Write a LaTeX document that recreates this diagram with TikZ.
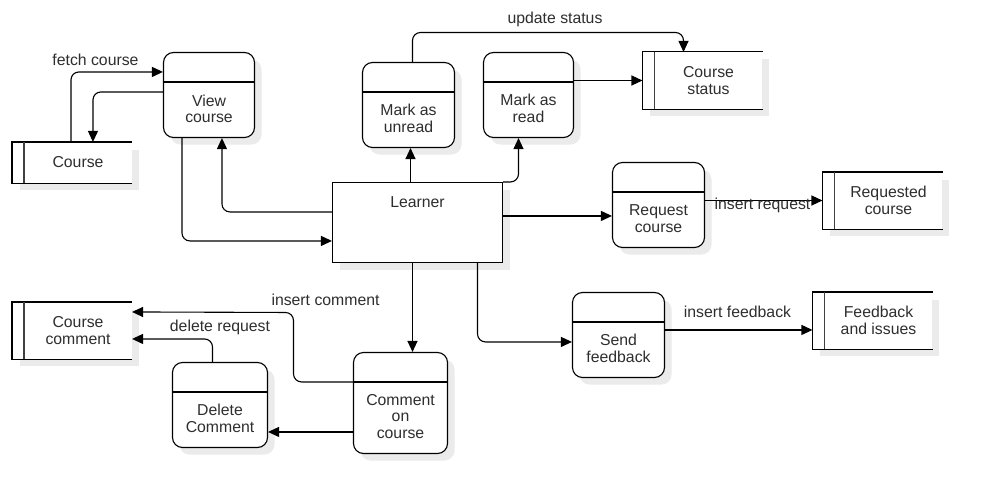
\documentclass[tikz,border=0pt]{standalone}
\usepackage{fontspec}
\setmainfont{Liberation Sans}
\usetikzlibrary{arrows.meta,shadows}
\begin{document}
\begin{tikzpicture}[x=1pt,y=-1pt,
  line width=1.1pt,
  txt/.style={font=\fontsize{15.8}{16.5}\selectfont, text=black!82, align=center, inner sep=0pt},
  lbl/.style={font=\fontsize{15.8}{16.5}\selectfont, text=black!82, inner sep=0pt},
  proc/.style={draw, fill=white, rounded corners=10pt, inner sep=0pt,
    drop shadow={shadow xshift=7pt, shadow yshift=-7pt, fill=black!8, opacity=1}},
  store/.style={fill=white, inner sep=0pt, minimum width=119pt, minimum height=56pt,
    drop shadow={shadow xshift=7pt, shadow yshift=-7pt, fill=black!8, opacity=1}},
  ent/.style={draw, fill=white, inner sep=0pt,
    drop shadow={shadow xshift=7pt, shadow yshift=-7pt, fill=black!8, opacity=1}},
  arr/.style={-{Triangle[length=11pt,width=10pt]}, rounded corners=8pt},
  sline/.style={line width=1.1pt}
]
\fill[white] (0,0) rectangle (990,503);
\useasboundingbox (0,0) rectangle (990,503);
\begin{scope}[shift={(0.5,0.5)}]
% ---------- data stores ----------
\node[store, minimum height=40pt] (course) at (71.5,162) {};
\node[store] (status) at (702,80) {};
\node[store] (requested) at (882,200) {};
\node[store] (feedback) at (872,320) {};
\node[store] (ccomment) at (71.5,330) {};
\foreach \s in {course,status,requested,feedback,ccomment}{
  \draw[sline] (\s.north east) -- (\s.north west) -- (\s.south west) -- (\s.south east);
  \draw[sline, black!75] ([xshift=12pt]\s.north west) -- ([xshift=12pt]\s.south west);
}
\node[txt] (courseT) at (77.5,162) {Course};
\node[txt] (statusT) at (708,80) {Course\\status};
\node[txt] (requestedT) at (888,200) {Requested\\course};
\node[txt] (feedbackT) at (878,320) {Feedback\\and issues};
\node[txt] (ccommentT) at (77.5,330) {Course\\comment};

% ---------- processes ----------
\node[proc, minimum width=91pt, minimum height=85pt] (view) at (208.5,94.5) {};
\node[proc, minimum width=92pt, minimum height=85pt] (unread) at (408,104.5) {};
\node[proc, minimum width=90pt, minimum height=85pt] (read) at (528,94.5) {};
\node[proc, minimum width=92pt, minimum height=85pt] (request) at (658,204.5) {};
\node[proc, minimum width=92pt, minimum height=85pt] (send) at (618,334.5) {};
\node[proc, minimum width=94pt, minimum height=101pt] (comment) at (400,402.5) {};
\node[proc, minimum width=95pt, minimum height=85pt] (delete) at (219.5,404.5) {};
\foreach \p in {view,unread,read,request,send,comment,delete}{
  \draw[sline] ([yshift=-30pt]\p.north west) -- ([yshift=-30pt]\p.north east);
}
\node[txt] (viewT) at (208.5,108.5) {View\\course};
\node[txt] (unreadT) at (408,118) {Mark as\\unread};
\node[txt] (readT) at (528,108) {Mark as\\read};
\node[txt] (requestT) at (658,218) {Request\\course};
\node[txt] (sendT) at (618,348) {Send\\feedback};
\node[txt] (commentT) at (400,416) {Comment\\on\\course};
\node[txt] (deleteT) at (219.5,418) {Delete\\Comment};

% ---------- external entity ----------
\node[ent, minimum width=170pt, minimum height=80pt] (learner) at (417,222) {};
\node[txt] (learnerT) at (417,202) {Learner};

% ---------- connectors ----------
\draw[arr] ([xshift=59pt]course.north west) |- ([yshift=-20pt]view.north west);
\draw[arr] ([yshift=-40pt]view.north west) -| ([xshift=81pt]course.north west);
\draw[arr] ([xshift=19pt]view.south west) |- ([yshift=-59pt]learner.north west);
\draw[arr] ([yshift=-30pt]learner.north west) -| ([xshift=59pt]view.south west);
\draw[arr] ([xshift=-7pt]learner.north) -- ([xshift=2pt]unread.south);
\draw[arr] (learner.north east) -| ([xshift=-10pt]read.south);
\coordinate (us) at (554,32);
\draw[arr] ([xshift=4pt]unread.north) |- (us) -| ([xshift=-19pt]status.north);
\draw[arr] (read.east |- status.west) -- (status.west);
\coordinate (rq) at ([yshift=-54pt]request.north west);
\draw[arr] (learner.east |- rq) -- (rq);
\draw[arr] (request.east |- requested.west) -- (requested.west);
\draw[arr] ([xshift=60pt]learner.south) |- ([yshift=-50pt]send.north west);
\draw[arr] ([yshift=-38pt]send.north east) -- ([yshift=-38pt]feedback.north west);
\draw[arr] ([xshift=-5pt]learner.south) -- ([xshift=12pt]comment.north);
\coordinate (ic) at (293,312);
\draw[arr] ([yshift=-30pt]comment.north west) -| (ic) -- ([yshift=-10pt]ccomment.north east);
\draw[arr] ([yshift=-80pt]comment.north west) -- ([yshift=-70pt]delete.north east);
\draw[arr] ([xshift=-7.5pt]delete.north) |- ([yshift=-37pt]ccomment.north east);

% ---------- labels ----------
\node[lbl] (l1) at (95,59) {fetch course};
\node[lbl] (l2) at (554.5,19) {update status};
\node[lbl] (l3) at (762,205) {insert request};
\node[lbl] (l4) at (737,311) {insert feedback};
\node[lbl] (l5) at (325,299) {insert comment};
\node[lbl] (l6) at (219.5,327) {delete request};
\end{scope}
\end{tikzpicture}
\end{document}
